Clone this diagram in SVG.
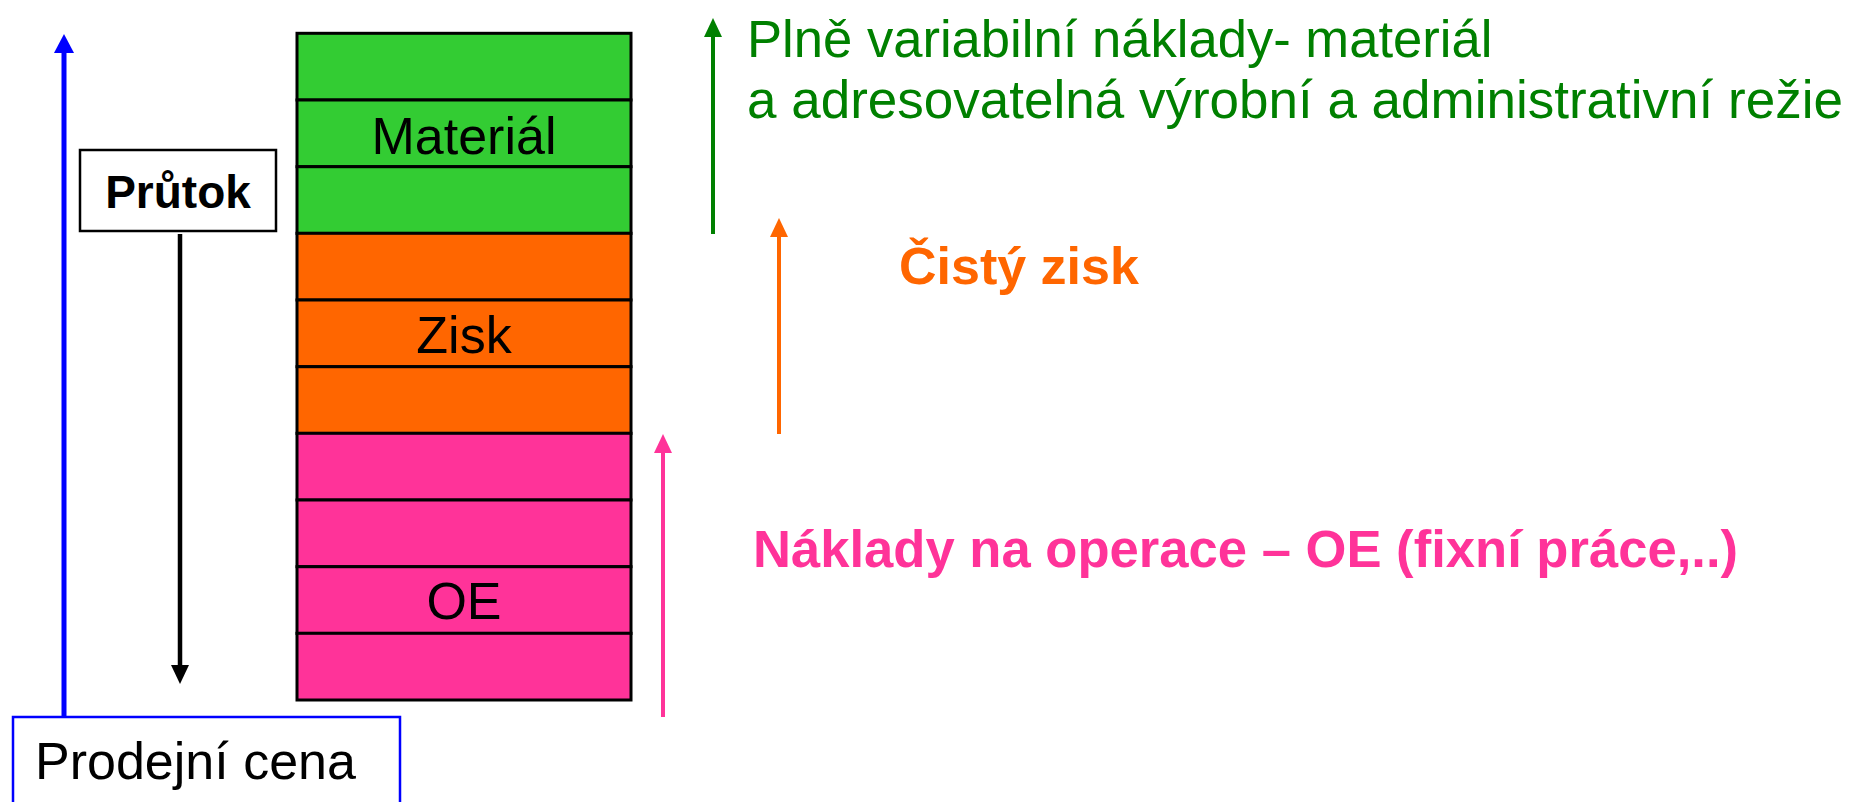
<svg xmlns="http://www.w3.org/2000/svg" width="1854" height="802" viewBox="0 0 1854 802">
<style>
.t{font-family:"Liberation Sans",Arial,sans-serif}
.row{stroke:#000;stroke-width:3}
.g{fill:#33CC33}.o{fill:#FF6600}.p{fill:#FF3399}
.lbl{font-size:52px;fill:#000;text-anchor:middle}
</style>
<defs>
<marker id="mB" viewBox="0 -10 20 20" refX="0" refY="0" markerWidth="20" markerHeight="20" markerUnits="userSpaceOnUse" orient="auto"><path d="M0,-10 L19,0 L0,10 z" fill="#0000FF"/></marker>
<marker id="mG" viewBox="0 -10 20 20" refX="0" refY="0" markerWidth="20" markerHeight="20" markerUnits="userSpaceOnUse" orient="auto"><path d="M0,-9 L19,0 L0,9 z" fill="#008000"/></marker>
<marker id="mO" viewBox="0 -10 20 20" refX="0" refY="0" markerWidth="20" markerHeight="20" markerUnits="userSpaceOnUse" orient="auto"><path d="M0,-9 L19,0 L0,9 z" fill="#FF6600"/></marker>
<marker id="mP" viewBox="0 -10 20 20" refX="0" refY="0" markerWidth="20" markerHeight="20" markerUnits="userSpaceOnUse" orient="auto"><path d="M0,-9 L19,0 L0,9 z" fill="#FF3399"/></marker>
<marker id="mK" viewBox="0 -10 20 20" refX="0" refY="0" markerWidth="20" markerHeight="20" markerUnits="userSpaceOnUse" orient="auto"><path d="M0,-9 L19,0 L0,9 z" fill="#000"/></marker>
</defs>
<rect width="1854" height="802" fill="#fff"/>

<g id="stack">
<rect class="row g" x="297" y="33.3" width="334" height="66.7"/>
<rect class="row g" x="297" y="100" width="334" height="66.7"/>
<rect class="row g" x="297" y="166.7" width="334" height="66.7"/>
<rect class="row o" x="297" y="233.3" width="334" height="66.7"/>
<rect class="row o" x="297" y="300" width="334" height="66.7"/>
<rect class="row o" x="297" y="366.7" width="334" height="66.7"/>
<rect class="row p" x="297" y="433.3" width="334" height="66.7"/>
<rect class="row p" x="297" y="500" width="334" height="66.7"/>
<rect class="row p" x="297" y="566.7" width="334" height="66.7"/>
<rect class="row p" x="297" y="633.3" width="334" height="66.7"/>
<text class="t lbl" x="464" y="154">Materiál</text>
<text class="t lbl" x="464" y="353">Zisk</text>
<text class="t lbl" x="464" y="619">OE</text>
</g>

<g id="prutok">
<rect x="80" y="150" width="196" height="81" fill="#fff" stroke="#000" stroke-width="2.5"/>
<text class="t" x="178" y="208" font-size="46" font-weight="bold" text-anchor="middle">Průtok</text>
</g>

<g id="prodejni-cena">
<rect x="13" y="717" width="387" height="110" fill="#fff" stroke="#0000FF" stroke-width="2.5"/>
<text class="t" x="35" y="779" font-size="52" fill="#000">Prodejní cena</text>
</g>

<g id="label-variabilni" class="t" fill="#008000">
<text x="747" y="57" font-size="52.6">Plně variabilní náklady- materiál</text>
<text x="747" y="118" font-size="53">a adresovatelná výrobní a administrativní režie</text>
</g>

<g id="label-zisk">
<text class="t" x="899" y="284" font-size="52" font-weight="bold" fill="#FF6600">Čistý zisk</text>
</g>

<g id="label-naklady">
<text class="t" x="753" y="567" font-size="52.6" font-weight="bold" fill="#FF3399">Náklady na operace – OE (fixní práce,..)</text>
</g>

<g id="connectors" fill="none">
<line x1="64" y1="717" x2="64" y2="53" stroke="#0000FF" stroke-width="5" marker-end="url(#mB)"/>
<line x1="180" y1="234" x2="180" y2="665" stroke="#000" stroke-width="4.5" marker-end="url(#mK)"/>
<line x1="713" y1="234" x2="713" y2="37" stroke="#008000" stroke-width="4" marker-end="url(#mG)"/>
<line x1="779" y1="434" x2="779" y2="237" stroke="#FF6600" stroke-width="4" marker-end="url(#mO)"/>
<line x1="663" y1="717" x2="663" y2="453" stroke="#FF3399" stroke-width="4" marker-end="url(#mP)"/>
</g>
</svg>
